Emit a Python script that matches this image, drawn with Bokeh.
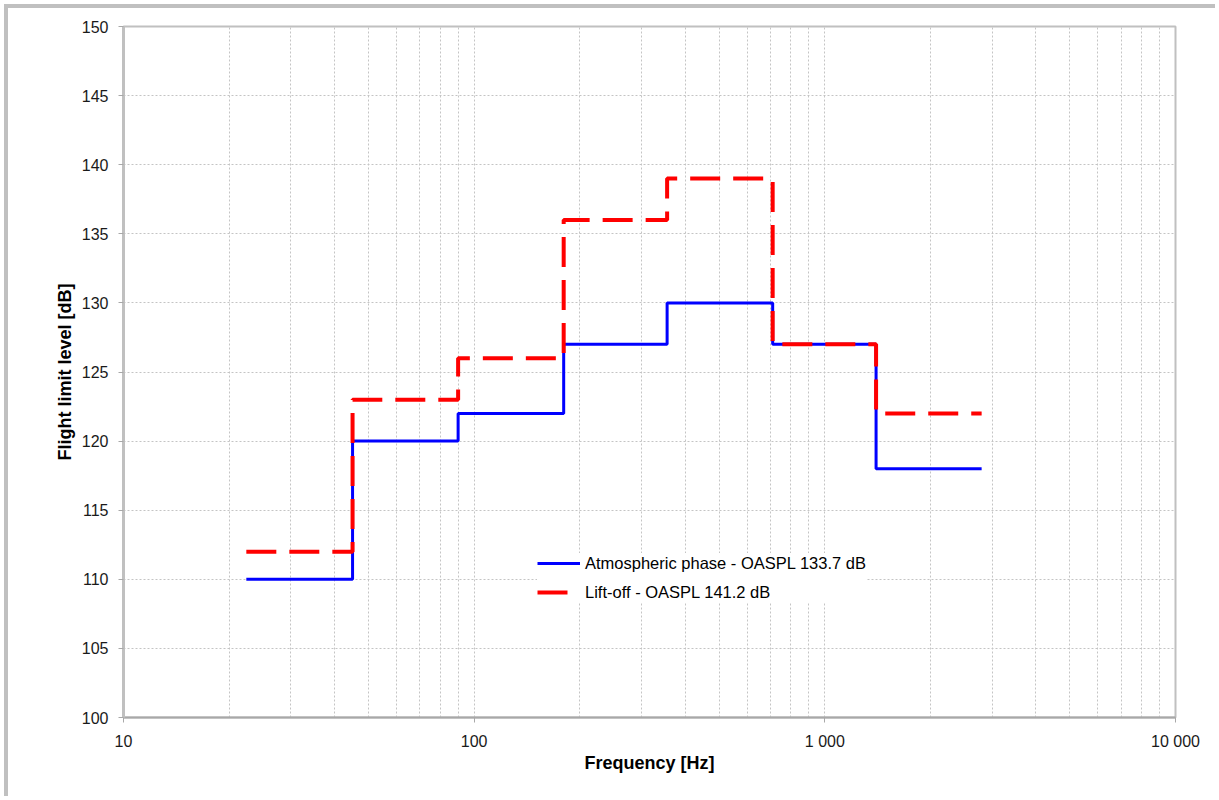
from bokeh.plotting import figure
from bokeh.models import FixedTicker, Legend, LegendItem
from bokeh.embed import file_html
from bokeh.resources import INLINE

# Octave band edges [Hz] and flight limit levels [dB]
freq_edges = [22.4, 45, 90, 180, 355, 710, 1400, 2800]
atmospheric_db = [110, 120, 122, 127, 130, 127, 118]
liftoff_db = [112, 123, 126, 136, 139, 127, 122]

x_major = [10, 100, 1000, 10000]
x_major_labels = ["10", "100", "1 000", "10 000"]
y_ticks = [100, 105, 110, 115, 120, 125, 130, 135, 140, 145, 150]

FONT = "Liberation Sans"
GRID = "#c4c4c4"

p = figure(
    width=1211, height=792,
    x_axis_type="log",
    x_range=(10, 10000), y_range=(100, 150),
    output_backend="svg", toolbar_location=None,
    min_border_left=115, min_border_right=44,
    min_border_top=18, min_border_bottom=83,
    background_fill_color="white", border_fill_color="white",
)
p.styles = {
    "margin-left": "4px", "margin-top": "4px",
    "border-left": "4px solid #c0c0c0", "border-top": "4px solid #c0c0c0",
}

p.outline_line_color = "#c0c0c0"
p.outline_line_width = 2

# step curves: repeat the last level so the final band is drawn to its upper edge
atm_y = atmospheric_db + [atmospheric_db[-1]]
lift_y = liftoff_db + [liftoff_db[-1]]

r_atm = p.step(freq_edges, atm_y, mode="after", line_color="#0000ff", line_width=3)
r_lift = p.step(freq_edges, lift_y, mode="after", line_color="#ff0000", line_width=4,
                line_dash="30 13")

# axes
minor = [m * d for d in (10, 100, 1000) for m in range(2, 10)]
p.xaxis.ticker = FixedTicker(ticks=x_major, minor_ticks=minor)
p.xaxis.major_label_overrides = dict(zip(x_major, x_major_labels))
p.yaxis.ticker = FixedTicker(ticks=y_ticks)

for ax in (p.xaxis, p.yaxis):
    ax.major_label_text_font = FONT
    ax.major_label_text_font_size = "16px"
    ax.major_label_text_color = "#1a1a1a"
    ax.axis_label_text_font = FONT
    ax.axis_label_text_font_size = "18px"
    ax.axis_label_text_font_style = "bold"
    ax.axis_label_text_color = "#000000"
    ax.major_tick_in = 0
    ax.major_tick_out = 5
    ax.minor_tick_in = 0
    ax.minor_tick_out = 0
    ax.major_label_standoff = 10

p.xaxis.axis_label = "Frequency [Hz]"
p.yaxis.axis_label = "Flight limit level [dB]"
p.xaxis.axis_label_standoff = 0
p.yaxis.axis_label_standoff = 4
p.xaxis.axis_line_color = "#a8a8a8"
p.xaxis.axis_line_width = 2
p.xaxis.major_tick_line_color = "#a8a8a8"
p.yaxis.axis_line_color = "#c0c0c0"
p.yaxis.axis_line_width = 3
p.yaxis.major_tick_line_color = "#a8a8a8"

# dotted grid
for g in (p.xgrid, p.ygrid):
    g.grid_line_color = GRID
    g.grid_line_dash = "2 2"
    g.grid_line_width = 1
p.xgrid.minor_grid_line_color = GRID
p.xgrid.minor_grid_line_dash = "2 2"
p.xgrid.minor_grid_line_width = 1

legend = Legend(
    items=[
        LegendItem(label="Atmospheric phase - OASPL 133.7 dB", renderers=[r_atm]),
        LegendItem(label="Lift-off - OASPL 141.2 dB", renderers=[r_lift]),
    ],
    location=(414, 115),
    background_fill_color="white", background_fill_alpha=1.0,
    border_line_color=None,
    label_text_font=FONT, label_text_font_size="16.5px", label_text_color="#000000",
    glyph_width=43, glyph_height=20, label_height=20, spacing=9,
    padding=10, margin=0, label_standoff=5,
)
p.add_layout(legend, "center")

open("out.html", "w").write(file_html(p, INLINE))
